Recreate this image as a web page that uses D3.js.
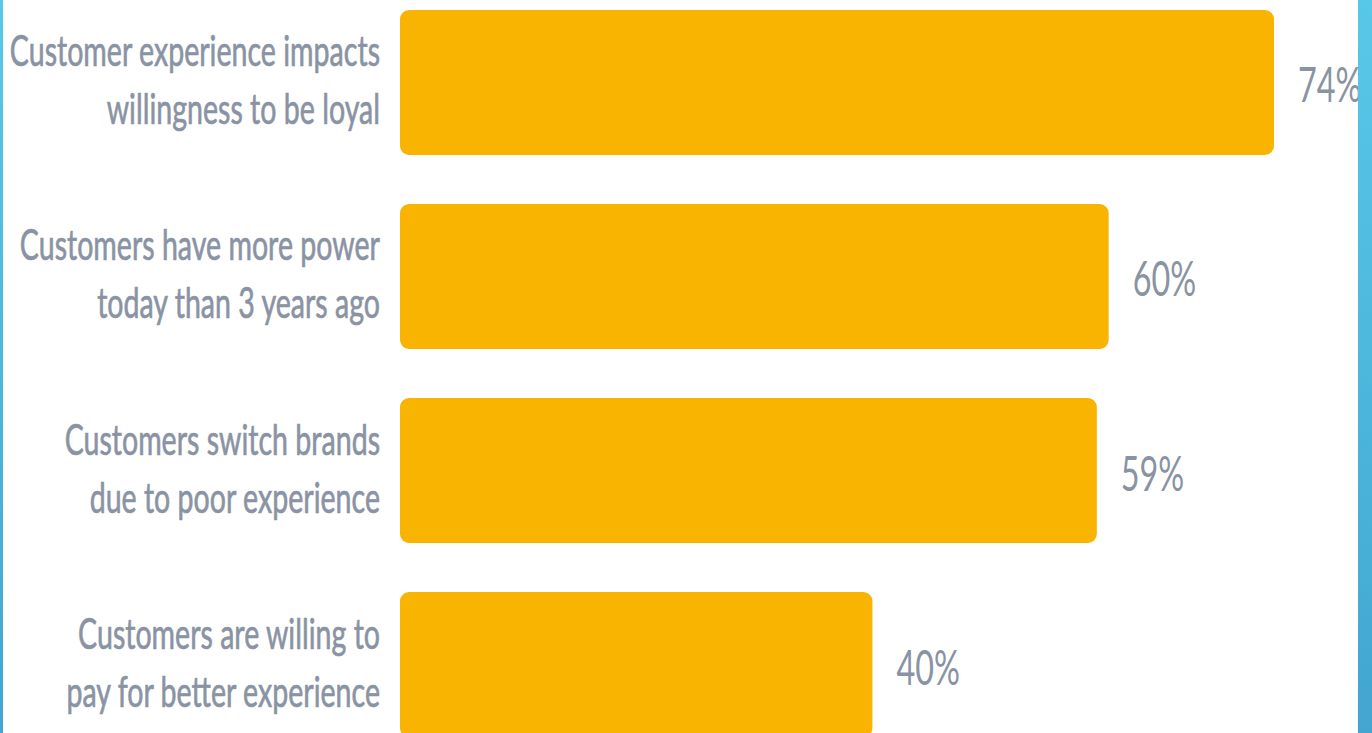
<!DOCTYPE html>
<html>
<head>
<meta charset="utf-8">
<script src="https://cdn.jsdelivr.net/npm/d3@7"></script>
<style>
  html, body { margin: 0; padding: 0; background: #fff; overflow: hidden; }
  #chart { width: 1372px; height: 733px; }
</style>
</head>
<body>
<div id="chart"></div>
<script>
var categories = [
    "Customer experience impacts willingness to be loyal",
    "Customers have more power today than 3 years ago",
    "Customers switch brands due to poor experience",
    "Customers are willing to pay for better experience"
];
var labelLines = [
    ["Customer experience impacts", "willingness to be loyal"],
    ["Customers have more power", "today than 3 years ago"],
    ["Customers switch brands", "due to poor experience"],
    ["Customers are willing to", "pay for better experience"]
];
var values = [74, 60, 59, 40];

var w = 1372, h = 733;

var svg = d3.select("#chart")
    .append("svg")
    .attr("width", w)
    .attr("height", h);

var x = d3.scaleLinear()
    .domain([0, 74])
    .range([400, 1274]);

var y = d3.scaleBand()
    .domain(categories)
    .range([10, 737])
    .paddingInner(0.2526)
    .paddingOuter(0);

var textColor = "#8a93a3";
var sx = 0.68;

// bars
svg.selectAll(".bar")
    .data(values)
    .enter()
    .append("rect")
    .attr("class", "bar")
    .attr("x", x(0))
    .attr("y", function(d, i) { return y(categories[i]); })
    .attr("width", function(d) { return x(d) - x(0); })
    .attr("height", y.bandwidth())
    .attr("rx", 9)
    .attr("fill", "#f8b400");

// category labels
var labels = svg.selectAll(".lbl")
    .data(labelLines)
    .enter()
    .append("g")
    .attr("class", "lbl")
    .attr("transform", function(d, i) {
        var cy = y(categories[i]) + y.bandwidth() / 2;
        return "translate(380," + cy + ")";
    });

labels.selectAll("text")
    .data(function(d) { return d; })
    .enter()
    .append("text")
    .attr("transform", function(d, j) {
        return "translate(0," + (j === 0 ? -16 : 42) + ") scale(" + sx + ",1)";
    })
    .attr("text-anchor", "end")
    .attr("font-family", "Lato, 'Open Sans', sans-serif")
    .attr("font-size", "42px")
    .attr("fill", textColor)
    .attr("stroke", textColor)
    .attr("stroke-width", 0.7)
    .text(function(d) { return d; });

// value labels
svg.selectAll(".val")
    .data(values)
    .enter()
    .append("text")
    .attr("class", "val")
    .attr("transform", function(d, i) {
        var cy = y(categories[i]) + y.bandwidth() / 2;
        return "translate(" + (x(d) + 24) + "," + (cy + 20) + ") scale(0.66,1)";
    })
    .attr("font-family", "Lato, 'Open Sans', sans-serif")
    .attr("font-size", "49px")
    .attr("fill", textColor)
    .text(function(d) { return d + "%"; });

// side stripes (drawn on top, they crop the last label)
var defs = svg.append("defs");
var grad = defs.append("linearGradient")
    .attr("id", "stripe")
    .attr("x1", 0).attr("y1", 0).attr("x2", 0).attr("y2", 1);
grad.append("stop").attr("offset", "0%").attr("stop-color", "#58c8e8");
grad.append("stop").attr("offset", "100%").attr("stop-color", "#42a6d0");

svg.append("rect").attr("x", 0).attr("y", 0).attr("width", 3).attr("height", h).attr("fill", "url(#stripe)");
svg.append("rect").attr("x", 1358).attr("y", 0).attr("width", 14).attr("height", h).attr("fill", "url(#stripe)");
</script>
</body>
</html>
